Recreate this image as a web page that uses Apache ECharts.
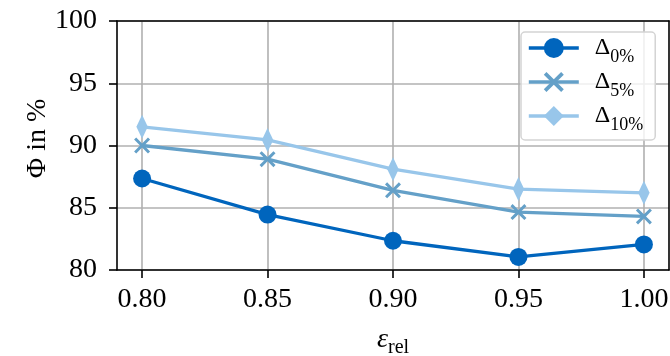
<!DOCTYPE html>
<html>
<head>
<meta charset="utf-8">
<script src="https://cdn.jsdelivr.net/npm/echarts@6/dist/echarts.min.js"></script>
<style>html,body{margin:0;padding:0;background:#fff;overflow:hidden}#c{width:670px;height:356px}</style>
</head>
<body>
<div id="c"></div>
<script>
const xValues = [0.80, 0.85, 0.90, 0.95, 1.00];
const delta0 = [87.35, 84.45, 82.35, 81.05, 82.05];
const delta5 = [90.0, 88.9, 86.4, 84.65, 84.3];
const delta10 = [91.5, 90.45, 88.1, 86.5, 86.2];
const xTicks = [0.80, 0.85, 0.90, 0.95, 1.00];
const seriesNames = ['d0', 'd5', 'd10'];
const legendSubs = {d0: '0%', d5: '5%', d10: '10%'};

const FONT = 'Liberation Serif';
const colors = ['#0065BD', '#64A0C8', '#98C6EA'];
const crossPath = 'path://M0,2.65 L2.65,0 L10,7.35 L17.35,0 L20,2.65 L12.65,10 L20,17.35 L17.35,20 L10,12.65 L2.65,20 L0,17.35 L7.35,10 Z';
const diamondPath = 'path://M5,0 L10,7 L5,14 L0,7 Z';

function pairs(ys) { return xValues.map((x, i) => [x, ys[i]]); }

const chart = echarts.init(document.getElementById('c'), null, {renderer: 'canvas'});
chart.setOption({
  animation: false,
  backgroundColor: '#fff',
  grid: {left: 117, right: 1, top: 21, bottom: 86, containLabel: false, outerBoundsMode: 'none'},
  xAxis: [{
    type: 'value', min: 0.79, max: 1.01, position: 'bottom',
    axisLine: {show: true, onZero: false, lineStyle: {color: '#000', width: 1.6}},
    axisTick: {show: true, customValues: xTicks, length: 8, lineStyle: {color: '#000', width: 1.6}},
    axisLabel: {customValues: xTicks, formatter: v => v.toFixed(2), fontFamily: FONT, fontSize: 28, color: '#000', margin: 16, hideOverlap: false},
    splitLine: {show: true, lineStyle: {color: '#b0b0b0', width: 1.6}},
    name: '{e|ε}{s|rel}', nameLocation: 'middle', nameGap: 56,
    nameTextStyle: {rich: {
      e: {fontFamily: FONT, fontStyle: 'italic', fontSize: 28, color: '#000', lineHeight: 26, verticalAlign: 'top'},
      s: {fontFamily: FONT, fontSize: 20, color: '#000', lineHeight: 20, padding: [12, 0, 0, 0], verticalAlign: 'top'}
    }}
  }, {
    type: 'value', min: 0.79, max: 1.01, position: 'top', z: 5,
    axisLine: {show: true, onZero: false, lineStyle: {color: '#000', width: 1.6}},
    axisTick: {show: false}, axisLabel: {show: false}, splitLine: {show: false}
  }],
  yAxis: [{
    type: 'value', min: 80, max: 100, interval: 5, position: 'left',
    axisLine: {show: true, onZero: false, lineStyle: {color: '#000', width: 1.6}},
    axisTick: {show: true, length: 8, lineStyle: {color: '#000', width: 1.6}},
    axisLabel: {fontFamily: FONT, fontSize: 28, color: '#000', margin: 20},
    splitLine: {show: true, lineStyle: {color: '#b0b0b0', width: 1.6}},
    name: 'Φ in %', nameLocation: 'middle', nameRotate: 90, nameGap: 65, nameMoveOverlap: false,
    nameTextStyle: {fontFamily: FONT, fontSize: 28, color: '#000', padding: [0, 0, 0, 14]}
  }, {
    type: 'value', min: 80, max: 100, position: 'right', z: 5,
    axisLine: {show: true, onZero: false, lineStyle: {color: '#000', width: 1.6}},
    axisTick: {show: false}, axisLabel: {show: false}, splitLine: {show: false}
  }],
  legend: {
    orient: 'vertical', left: 521, top: 32,
    padding: [4, 12, 6, 6], itemGap: 4, itemWidth: 50, itemHeight: 25,
    backgroundColor: 'rgba(255,255,255,0.8)', borderColor: '#d4d4d4', borderWidth: 1.5, borderRadius: 4,
    lineStyle: {width: 3.6},
    data: seriesNames,
    formatter: n => '{a|Δ}{b|' + legendSubs[n] + '}',
    textStyle: {rich: {
      a: {fontFamily: FONT, fontSize: 24, color: '#000', lineHeight: 24, verticalAlign: 'top', padding: [0, 0, 0, 11]},
      b: {fontFamily: FONT, fontSize: 18, color: '#000', lineHeight: 18, padding: [12, 0, 0, 0], verticalAlign: 'top'}
    }}
  },
  series: [
    {name: 'd0', type: 'line', data: pairs(delta0), symbol: 'circle', symbolSize: 18,
     lineStyle: {color: colors[0], width: 3.3}, itemStyle: {color: colors[0]}, z: 4},
    {name: 'd5', type: 'line', data: pairs(delta5), symbol: crossPath, symbolSize: 16,
     lineStyle: {color: colors[1], width: 3.3}, itemStyle: {color: colors[1]}, z: 3},
    {name: 'd10', type: 'line', data: pairs(delta10), symbol: diamondPath, symbolSize: [16, 24], symbolKeepAspect: true,
     lineStyle: {color: colors[2], width: 3.3}, itemStyle: {color: colors[2]}, z: 2}
  ]
});
</script>
</body>
</html>
